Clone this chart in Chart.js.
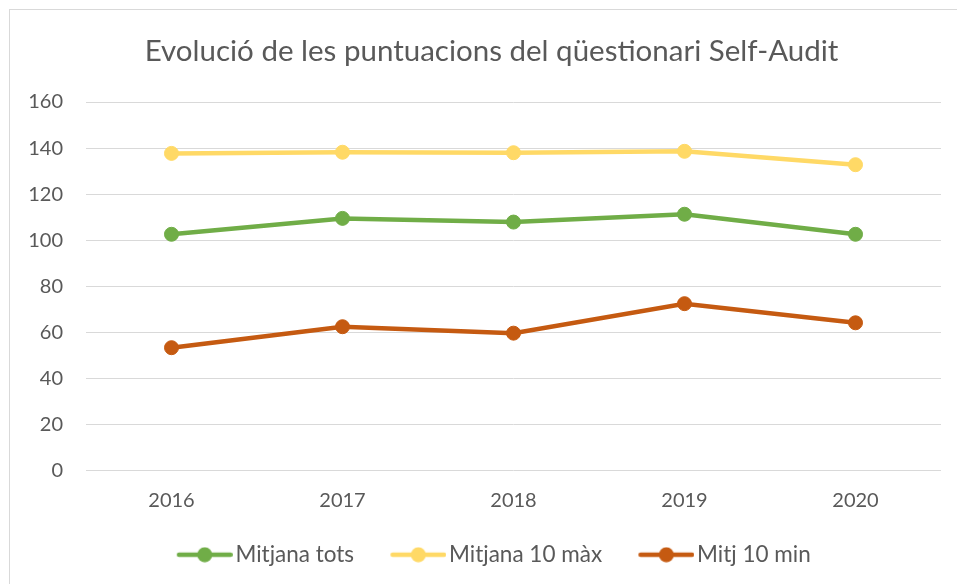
<!DOCTYPE html>
<html>
<head>
<meta charset="utf-8">
<script src="https://cdn.jsdelivr.net/npm/chart.js@4"></script>
<style>
  html, body { margin: 0; padding: 0; background: #fff; overflow: hidden; }
  #wrap { position: relative; width: 957px; height: 584px; }
  #frame { position: absolute; left: 9px; top: 9px; width: 1000px; height: 1000px; border: 1px solid #d9d9d9; box-sizing: border-box; }
  canvas { position: absolute; left: 0; top: 0; }
</style>
</head>
<body>
<div id="wrap">
  <div id="frame"></div>
  <canvas id="chart" width="957" height="584"></canvas>
</div>
<script>
// --- DADES ---
const years = ['2016', '2017', '2018', '2019', '2020'];
const mitjanaTots = [102.6, 109.5, 107.9, 111.3, 102.6];
const mitjana10Max = [137.7, 138.2, 138.0, 138.6, 132.8];
const mitj10Min = [53.4, 62.5, 59.7, 72.5, 64.2];
const yTicks = [0, 20, 40, 60, 80, 100, 120, 140, 160];

const FONT = 'Lato';
const TEXT = '#595959';
const GRID = '#d9d9d9';
const LEGEND_SIZE = 22.5;

// icona de la llegenda: línia + punt (amb marge transparent a l'esquerra)
function legendIcon(color) {
    const c = document.createElement('canvas');
    c.width = 91; c.height = 16;
    const g = c.getContext('2d');
    g.strokeStyle = color; g.lineWidth = 4.5; g.lineCap = 'round';
    g.beginPath(); g.moveTo(37.25, 8); g.lineTo(88.75, 8); g.stroke();
    g.fillStyle = color;
    g.beginPath(); g.arc(63, 8, 7.5, 0, Math.PI * 2); g.fill();
    return c;
}

function serie(label, data, color) {
    return {
        label, data,
        borderColor: color, backgroundColor: color,
        borderWidth: 4.5,
        pointRadius: 7, pointHoverRadius: 7,
        pointBorderWidth: 1, pointBorderColor: color, pointBackgroundColor: color,
        pointStyle: 'circle',
        legendIcon: legendIcon(color),
        tension: 0
    };
}

const datasets = [
    serie('Mitjana tots', mitjanaTots, '#70ad47'),
    serie('Mitjana 10 màx', mitjana10Max, '#ffd966'),
    serie('Mitj 10 min', mitj10Min, '#c55a11')
];

// títol i llegenda centrats com a l'original (una mica a la dreta)
const shiftBoxes = {
    id: 'shiftBoxes',
    afterLayout(chart) {
        chart.titleBlock.left += 21; chart.titleBlock.right += 21;
        chart.legend.left += 10; chart.legend.right += 10;
    }
};

new Chart(document.getElementById('chart'), {
    type: 'line',
    data: { labels: years, datasets },
    plugins: [shiftBoxes],
    options: {
        responsive: false,
        animation: false,
        layout: { padding: { left: 0, right: 16, top: 0, bottom: 8 } },
        plugins: {
            title: {
                display: true,
                text: 'Evolució de les puntuacions del qüestionari Self-Audit',
                color: TEXT,
                font: { family: FONT, size: 29.5, weight: 'normal' },
                padding: { top: 33.3, bottom: 33.3 }
            },
            legend: {
                position: 'bottom',
                labels: {
                    color: TEXT,
                    font: { family: FONT, size: LEGEND_SIZE },
                    usePointStyle: true,
                    pointStyleWidth: 74,
                    padding: 9.75,
                    generateLabels: chart => chart.data.datasets.map((d, i) => ({
                        text: d.label,
                        fillStyle: d.borderColor,
                        strokeStyle: d.borderColor,
                        lineWidth: 0,
                        pointStyle: d.legendIcon,
                        hidden: false,
                        datasetIndex: i,
                        fontColor: TEXT
                    }))
                }
            },
            tooltip: { enabled: false }
        },
        scales: {
            x: {
                offset: true,
                afterFit: axis => { axis.height = 63; },
                grid: { display: false, drawTicks: false },
                border: { display: false },
                ticks: { color: TEXT, font: { family: FONT, size: 20 }, padding: 18 }
            },
            y: {
                min: 0, max: 160,
                afterBuildTicks: axis => { axis.ticks = yTicks.map(v => ({ value: v })); },
                afterFit: axis => { axis.width = 86; },
                grid: { color: GRID, lineWidth: 1, drawTicks: false },
                border: { display: false },
                ticks: { color: TEXT, font: { family: FONT, size: 20 }, padding: 23 }
            }
        }
    }
});
</script>
</body>
</html>
